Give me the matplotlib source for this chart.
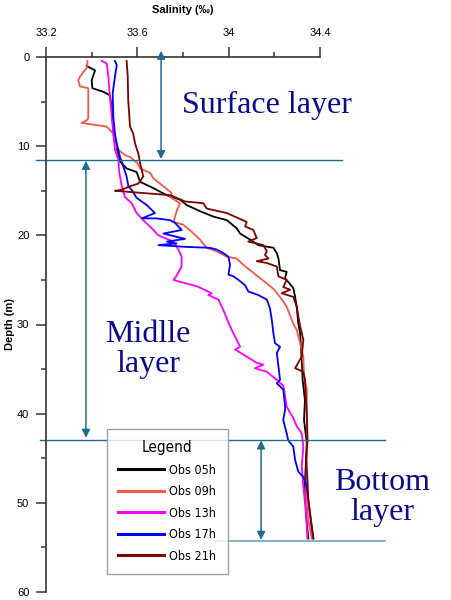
import numpy as np
import matplotlib
matplotlib.use("Agg")
import matplotlib.pyplot as plt
from matplotlib.ticker import MultipleLocator, FixedLocator

plt.rcParams['font.family'] = ['Liberation Sans', 'DejaVu Sans']

# Perfiles de salinidad (profundidad en m, salinidad en psu)
depth_05h = [1.0, 1.3, 1.5, 2.6, 3.5, 3.9, 4.3, 5.8, 8.4, 10.2, 11.7, 12.5, 12.9, 14.0, 14.7,
             15.1, 15.5, 16.0, 16.6, 17.3, 17.9, 18.3, 19.2, 19.8, 20.7, 21.1, 21.4, 22.0, 22.6,
             23.9, 24.1, 24.8, 25.9, 26.9, 28.0, 29.9, 31.0, 34.0, 36.2, 38.5, 40.7, 43.3, 47.8,
             51.5, 54.0]
sal_05h = [33.378, 33.400, 33.415, 33.400, 33.403, 33.451, 33.480, 33.488, 33.495, 33.510,
           33.524, 33.553, 33.597, 33.612, 33.670, 33.699, 33.729, 33.787, 33.816, 33.875,
           33.933, 33.992, 34.035, 34.050, 34.108, 34.130, 34.196, 34.211, 34.218, 34.225,
           34.254, 34.247, 34.283, 34.291, 34.298, 34.305, 34.313, 34.320, 34.324, 34.334,
           34.330, 34.342, 34.334, 34.339, 34.349]

depth_09h = [0.45, 1.1, 2.2, 2.6, 3.3, 3.5, 6.9, 7.1, 7.4, 7.8, 8.6, 9.7, 10.4, 11.0, 11.2,
             11.9, 12.5, 13.0, 13.6, 14.5, 15.1, 15.3, 15.7, 16.4, 17.3, 18.5, 18.8, 19.6, 20.5,
             21.4, 21.8, 22.4, 22.6, 23.3, 24.2, 25.4, 26.1, 27.4, 28.0, 29.9, 30.6, 32.1, 33.6,
             35.8, 37.3, 40.3, 43.0, 45.6, 49.3, 51.9, 54.0]
sal_09h = [33.381, 33.381, 33.349, 33.341, 33.349, 33.385, 33.385, 33.378, 33.356, 33.466,
           33.495, 33.502, 33.517, 33.546, 33.568, 33.600, 33.612, 33.656, 33.670, 33.714,
           33.743, 33.751, 33.743, 33.787, 33.772, 33.758, 33.801, 33.838, 33.875, 33.904,
           33.948, 33.992, 34.035, 34.064, 34.108, 34.167, 34.200, 34.239, 34.254, 34.283,
           34.298, 34.313, 34.327, 34.330, 34.342, 34.342, 34.345, 34.342, 34.339, 34.349,
           34.364]

depth_13h = [0.45, 0.7, 2.2, 4.45, 6.7, 8.6, 10.4, 11.5, 13.0, 14.5, 15.7, 16.4, 17.5, 18.3,
             19.2, 20.0, 20.7, 21.6, 22.4, 23.5, 24.6, 25.0, 25.3, 25.7, 26.5, 26.7, 27.2, 28.4,
             30.2, 31.0, 31.7, 32.5, 32.8, 33.6, 34.3, 34.5, 34.9, 35.3, 36.2, 36.9, 39.2, 40.5,
             41.4, 42.2, 43.7, 45.9, 48.2, 51.2, 54.0]
sal_13h = [33.444, 33.466, 33.473, 33.480, 33.488, 33.495, 33.502, 33.517, 33.521, 33.532,
           33.546, 33.575, 33.597, 33.626, 33.663, 33.692, 33.758, 33.780, 33.794, 33.794,
           33.770, 33.758, 33.800, 33.860, 33.926, 33.911, 33.955, 33.977, 34.006, 34.021,
           34.035, 34.050, 34.028, 34.079, 34.123, 34.152, 34.115, 34.167, 34.211, 34.240,
           34.254, 34.283, 34.298, 34.320, 34.327, 34.320, 34.327, 34.339, 34.345]

depth_17h = [0.45, 0.9, 2.2, 4.1, 6.7, 8.6, 9.7, 11.2, 12.3, 13.4, 14.5, 14.9, 15.8, 16.6,
             17.5, 18.1, 18.1, 18.3, 18.6, 19.4, 19.8, 20.4, 20.7, 20.9, 21.1, 21.3, 21.4, 21.6,
             22.0, 22.4, 23.3, 24.4, 24.6, 25.0, 25.6, 26.3, 26.7, 27.2, 28.2, 29.5, 31.0, 32.1,
             32.5, 33.2, 34.7, 36.2, 36.6, 37.3, 39.2, 39.6, 40.7, 42.2, 43.0, 43.7, 45.2, 46.5,
             47.1, 48.2, 49.7, 52.7, 54.0]
sal_17h = [33.502, 33.510, 33.502, 33.492, 33.495, 33.502, 33.510, 33.524, 33.539, 33.553,
           33.561, 33.575, 33.597, 33.641, 33.677, 33.619, 33.685, 33.743, 33.765, 33.794,
           33.714, 33.809, 33.729, 33.772, 33.692, 33.816, 33.918, 33.948, 33.977, 33.999,
           34.006, 33.999, 34.021, 34.043, 34.072, 34.086, 34.130, 34.167, 34.181, 34.189,
           34.196, 34.203, 34.225, 34.211, 34.218, 34.225, 34.211, 34.239, 34.247, 34.247,
           34.239, 34.254, 34.261, 34.283, 34.291, 34.305, 34.327, 34.342, 34.349, 34.364,
           34.371]

depth_21h = [0.45, 2.2, 4.8, 7.8, 8.6, 9.7, 10.8, 11.9, 13.4, 14.2, 14.5, 14.9, 15.0, 15.5,
             16.2, 16.4, 17.0, 17.5, 18.5, 19.0, 19.4, 20.3, 20.7, 21.1, 21.8, 22.2, 22.6, 22.9,
             23.1, 23.5, 24.6, 25.0, 25.8, 26.1, 26.5, 26.9, 28.0, 30.2, 31.7, 33.6, 34.9, 35.3,
             36.2, 39.9, 43.0, 45.2, 47.4, 49.7, 51.2, 52.7, 54.0]
sal_21h = [33.553, 33.558, 33.560, 33.568, 33.582, 33.590, 33.604, 33.612, 33.626, 33.604,
           33.568, 33.530, 33.502, 33.745, 33.809, 33.889, 33.904, 33.992, 34.079, 34.072,
           34.108, 34.123, 34.086, 34.152, 34.167, 34.159, 34.174, 34.123, 34.167, 34.211,
           34.218, 34.254, 34.239, 34.269, 34.232, 34.283, 34.298, 34.313, 34.327, 34.320,
           34.291, 34.327, 34.334, 34.342, 34.345, 34.339, 34.345, 34.349, 34.356, 34.364,
           34.371]

labels = ["Obs 05h", "Obs 09h", "Obs 13h", "Obs 17h", "Obs 21h"]
colors = ["#000000", "#f5584a", "#ff00ff", "#0000ff", "#800000"]

# Limites de las capas (m)
surface_top, surface_bottom = -0.7, 11.55
middle_bottom = 43.0
bottom_bottom = 54.3

x_ticks = [33.2, 33.6, 34.0, 34.4]
x_ticklabels = ["33.2", "33.6", "34", "34.4"]
y_ticks = [0, 10, 20, 30, 40, 50, 60]

fig = plt.figure(figsize=(4.52, 6.0), dpi=100)
ax = fig.add_axes([46 / 452, 8 / 600, 274 / 452, 535 / 600])

profiles = [(depth_05h, sal_05h), (depth_09h, sal_09h), (depth_13h, sal_13h),
            (depth_17h, sal_17h), (depth_21h, sal_21h)]
for (d, s), lab, c in zip(profiles, labels, colors):
    ax.plot(s, d, color=c, lw=1.3, label=lab)

ax.set_xlim(33.2, 34.4)
ax.set_ylim(60, 0)

# ejes: solo arriba e izquierda
for side in ["right", "bottom"]:
    ax.spines[side].set_visible(False)
for side in ["left", "top"]:
    ax.spines[side].set_color("#333333")
    ax.spines[side].set_linewidth(1.2)

ax.xaxis.tick_top()
ax.xaxis.set_label_position("top")
ax.xaxis.set_major_locator(FixedLocator(x_ticks))
ax.set_xticklabels(x_ticklabels)
ax.xaxis.set_minor_locator(MultipleLocator(0.2))
ax.yaxis.set_major_locator(FixedLocator(y_ticks))
ax.yaxis.set_minor_locator(MultipleLocator(5))
ax.tick_params(which="major", length=7.5, width=1.1, color="#333333", labelsize=8)
ax.tick_params(which="minor", length=3.5, width=1.1, color="#333333")
ax.tick_params(axis="x", which="both", top=True, bottom=False, pad=6.5)
ax.tick_params(axis="y", which="both", pad=4.5)

ax.set_xlabel("Salinity (‰)", fontsize=8, fontweight="bold", labelpad=10.5)
ax.set_ylabel("Depth (m)", fontsize=8, fontweight="bold", labelpad=1.5)

# lineas de separacion de capas
line_col = "#1d6b8e"
ax.plot([33.156, 34.497], [surface_bottom, surface_bottom], color=line_col, lw=1.0, clip_on=False)
ax.plot([33.174, 34.685], [middle_bottom, middle_bottom], color=line_col, lw=1.0, clip_on=False)
ax.plot([33.940, 34.685], [bottom_bottom, bottom_bottom], color="#6aa3bd", lw=1.2, clip_on=False)

# flechas dobles
arrow_kw = dict(arrowstyle="<|-|>", color=line_col, lw=1.1, mutation_scale=12,
                shrinkA=0, shrinkB=0)
ax.annotate("", xy=(33.704, surface_top), xytext=(33.704, surface_bottom - 0.1),
            arrowprops=arrow_kw, annotation_clip=False)
ax.annotate("", xy=(33.375, surface_bottom + 0.1), xytext=(33.375, middle_bottom - 0.3),
            arrowprops=arrow_kw, annotation_clip=False)
ax.annotate("", xy=(34.142, middle_bottom), xytext=(34.142, bottom_bottom - 0.15),
            arrowprops=arrow_kw, annotation_clip=False)

txt_kw = dict(family=["Liberation Serif", "DejaVu Serif"], color="#0a0a8c", fontsize=23,
              ha="center", va="center", linespacing=1.05, clip_on=False)
ax.text(34.168, 5.4, "Surface layer", **txt_kw)
ax.text(33.647, 32.8, "Midlle\nlayer", **txt_kw)
ax.text(34.672, 49.4, "Bottom\nlayer", **txt_kw)

leg_font = {"family": ["DejaVu Sans"], "stretch": "condensed", "size": 9}
title_font = {"family": ["DejaVu Sans"], "stretch": "condensed", "size": 11}
leg = ax.legend(loc="upper left", bbox_to_anchor=(0.2226, 0.3047), borderaxespad=0,
                title="Legend", fancybox=False, frameon=True, handlelength=3.7,
                handletextpad=0.4, labelspacing=0.68, borderpad=0.9,
                prop=leg_font, title_fontproperties=title_font)
leg.get_frame().set_edgecolor("#888888")
leg.get_frame().set_linewidth(1.0)
for h in leg.get_lines():
    h.set_linewidth(2.2)

fig.savefig("out.png", dpi=100)
